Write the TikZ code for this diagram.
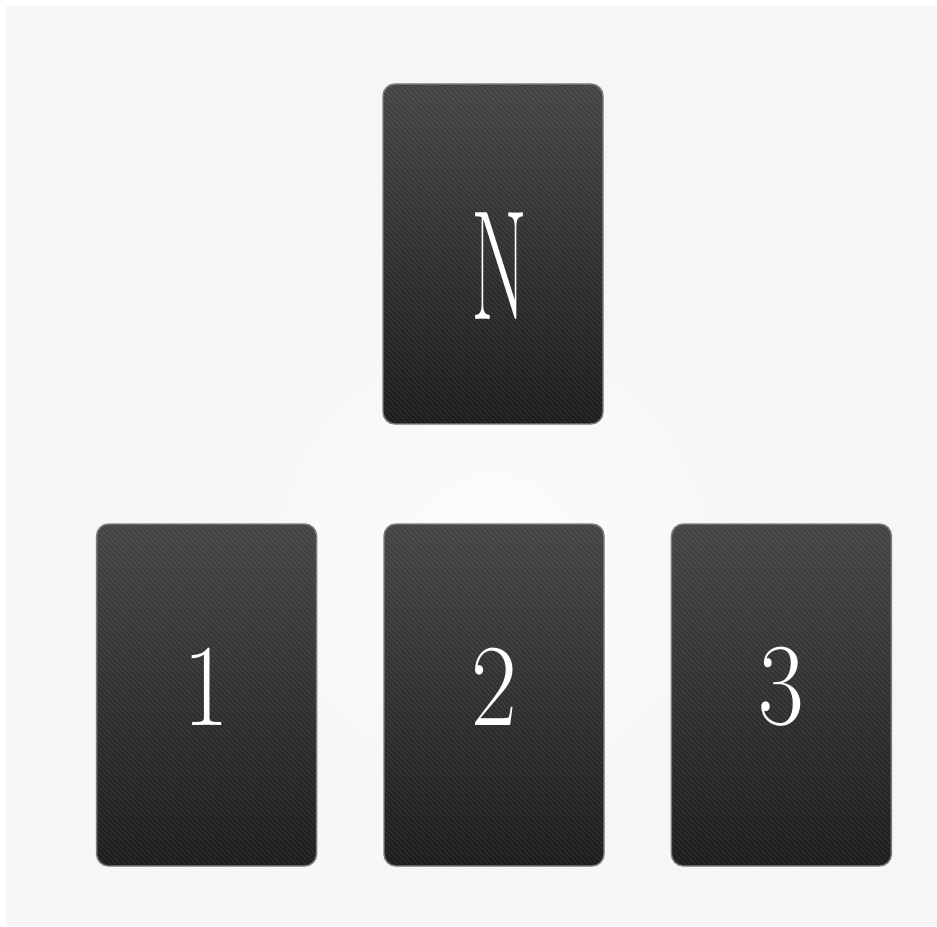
\documentclass[tikz,border=0pt]{standalone}
\usepackage{tikz}
\usetikzlibrary{positioning}

\definecolor{bgpaper}{RGB}{246,246,246}
\definecolor{cardtop}{RGB}{68,68,68}
\definecolor{cardbot}{RGB}{28,28,28}
\definecolor{cardrim}{RGB}{125,125,125}

\begin{document}
\begin{tikzpicture}[x=0.03cm, y=-0.03cm,
      card/.style={draw=cardrim, line width=1.2pt, rounded corners=0.36cm,
        minimum width=6.6cm, minimum height=10.2cm, inner sep=0pt,
        top color=cardtop, bottom color=cardbot, text=white,
        path picture={
          \foreach \k in {-12,-11.85,...,12}
            \draw[white, opacity=0.1, line width=0.6pt]
              ([shift={(\k cm-6cm,6cm)}]path picture bounding box.center) --
              ([shift={(\k cm+6cm,-6cm)}]path picture bounding box.center);
        }},
      digit/.style={font=\fontsize{100}{100}\selectfont, text=white, xscale=0.85}]

    % paper
    \fill[white] (0,0) rectangle (937,926);
    \fill[bgpaper] (6,6) rectangle (937,926);
    \shade[inner color=white, outer color=bgpaper, opacity=0.8] (493,560) circle (9cm);
    \useasboundingbox (0,0) rectangle (937,926);

    % the spread
    \node[card] (cardN) at (493,254) {};
    \node[font=\fontsize{92}{92}\selectfont, text=white, yscale=1.45, xscale=0.75]
      (glyphN) at (500,266) {N};

    \node[card, minimum height=10.26cm] (card2) at (494,695) {};
    \node[card, minimum height=10.26cm, left=1.98cm of card2] (card1) {};
    \node[card, minimum height=10.26cm, right=1.98cm of card2] (card3) {};

    \node[digit] (num1) at ([yshift=0.25cm]card1.center) {1};
    \node[digit] (num2) at ([yshift=0.25cm]card2.center) {2};
    \node[digit] (num3) at ([yshift=0.25cm]card3.center) {3};

\end{tikzpicture}
\end{document}
